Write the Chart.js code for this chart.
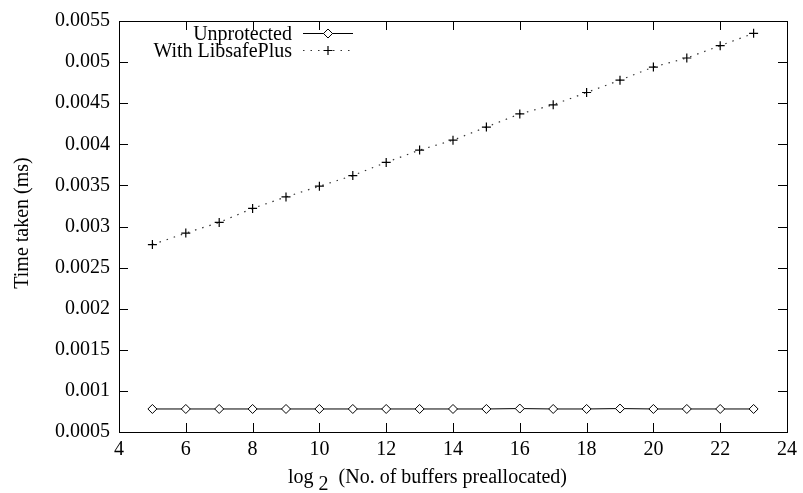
<!DOCTYPE html>
<html>
<head>
<meta charset="utf-8">
<script src="https://cdn.jsdelivr.net/npm/chart.js@4/dist/chart.umd.min.js"></script>
<style>
  html, body { margin: 0; padding: 0; background: #fff; }
  #wrap { width: 803px; height: 493px; }
</style>
</head>
<body>
<div id="wrap"><canvas id="chart" width="803" height="493"></canvas></div>
<script>
// ── Data ─────────────────────────────────────────────────────────────
var bufferExponents = [5, 6, 7, 8, 9, 10, 11, 12, 13, 14, 15, 16, 17, 18, 19, 20, 21, 22, 23];
var unprotectedTimes = [0.00078, 0.00078, 0.00078, 0.00078, 0.00078, 0.00078, 0.00078, 0.00078, 0.00078, 0.00078,
    0.00078, 0.000785, 0.00078, 0.00078, 0.000785, 0.00078, 0.00078, 0.00078, 0.00078];
var libsafeTimes = [0.00278, 0.00292, 0.00305, 0.00322, 0.00336, 0.00349, 0.00362, 0.00378, 0.00393, 0.00405,
    0.00421, 0.00437, 0.00448, 0.00463, 0.00478, 0.00494, 0.00505, 0.00520, 0.00535];
var yTickLabels = ["0.0005", "0.001", "0.0015", "0.002", "0.0025", "0.003", "0.0035", "0.004", "0.0045", "0.005", "0.0055"];
var seriesNames = ["Unprotected", "With LibsafePlus"];

var FONT = "'Liberation Serif', 'Times New Roman', serif";

function toPoints(ys) {
    return bufferExponents.map(function (x, i) { return { x: x, y: ys[i] }; });
}

// ── Frame, inward ticks, legend and axis titles (gnuplot look) ───────
var gnuplotDecor = {
    id: "gnuplotDecor",
    afterDraw: function (chart) {
        var ctx = chart.ctx;
        var a = chart.chartArea;
        var xs = chart.scales.x, ys = chart.scales.y;
        ctx.save();
        ctx.strokeStyle = "#000";
        ctx.lineWidth = 1;
        ctx.strokeRect(a.left + 0.5, a.top + 0.5, a.right - a.left, a.bottom - a.top);

        ctx.beginPath();
        ys.ticks.forEach(function (t) {
            var py = Math.round(ys.getPixelForValue(t.value)) + 0.5;
            ctx.moveTo(a.left, py); ctx.lineTo(a.left + 9, py);
            ctx.moveTo(a.right, py); ctx.lineTo(a.right - 9, py);
        });
        xs.ticks.forEach(function (t) {
            var px = Math.round(xs.getPixelForValue(t.value)) + 0.5;
            ctx.moveTo(px, a.bottom); ctx.lineTo(px, a.bottom - 9);
            ctx.moveTo(px, a.top); ctx.lineTo(px, a.top + 9);
        });
        ctx.stroke();

        // legend
        ctx.font = "20px " + FONT;
        ctx.fillStyle = "#000";
        ctx.textAlign = "right";
        ctx.textBaseline = "alphabetic";
        ctx.fillText(seriesNames[0], 292, 40);
        ctx.fillText(seriesNames[1], 292, 57);

        ctx.beginPath();
        ctx.lineWidth = 1;
        ctx.moveTo(303, 33.5); ctx.lineTo(353, 33.5);
        ctx.stroke();
        ctx.beginPath();
        ctx.fillStyle = "#fff";
        ctx.moveTo(328, 29); ctx.lineTo(332.5, 33.5); ctx.lineTo(328, 38); ctx.lineTo(323.5, 33.5); ctx.closePath();
        ctx.fill(); ctx.stroke();

        ctx.beginPath();
        ctx.setLineDash([1.5, 6]);
        ctx.strokeStyle = "#333";
        ctx.moveTo(303, 50.5); ctx.lineTo(353, 50.5);
        ctx.stroke();
        ctx.setLineDash([]);
        ctx.beginPath();
        ctx.strokeStyle = "#000";
        ctx.lineWidth = 1.2;
        ctx.moveTo(323.5, 50.5); ctx.lineTo(332.5, 50.5);
        ctx.moveTo(328, 46); ctx.lineTo(328, 55);
        ctx.stroke();

        // x title with subscript
        ctx.fillStyle = "#000";
        ctx.textAlign = "left";
        var tx = 288, base = 483;
        ctx.fillText("log ", tx, base);
        tx += ctx.measureText("log ").width;
        ctx.fillText("2", tx, base + 7);
        tx += ctx.measureText("2").width;
        ctx.fillText("  (No. of buffers preallocated)", tx, base);

        // y title
        ctx.translate(23, 223);
        ctx.rotate(-Math.PI / 2);
        ctx.textAlign = "center";
        ctx.textBaseline = "middle";
        ctx.fillText("Time taken (ms)", 0, 0);
        ctx.restore();
    }
};

var chart = new Chart(document.getElementById("chart"), {
    type: "line",
    data: {
        datasets: [{
            label: seriesNames[0],
            data: toPoints(unprotectedTimes),
            borderColor: "#000",
            borderWidth: 1,
            pointStyle: "rectRot",
            pointRadius: 4.5,
            pointBackgroundColor: "#fff",
            pointBorderColor: "#000",
            pointBorderWidth: 1,
            tension: 0
        }, {
            label: seriesNames[1],
            data: toPoints(libsafeTimes),
            borderColor: "#333",
            borderWidth: 1.2,
            borderDash: [1.5, 6],
            pointStyle: "cross",
            pointRadius: 4.5,
            pointBorderColor: "#000",
            pointBorderWidth: 1.2,
            tension: 0
        }]
    },
    options: {
        responsive: false,
        animation: false,
        layout: { padding: { left: 0, top: 14, right: 14, bottom: 0 } },
        plugins: {
            legend: { display: false },
            tooltip: { enabled: false }
        },
        scales: {
            x: {
                type: "linear",
                min: 4,
                max: 24,
                grid: { display: false, drawTicks: false },
                border: { display: false },
                ticks: { stepSize: 2, color: "#000", padding: 6, font: { family: FONT, size: 20 } },
                afterFit: function (scale) { scale.height = 61; }
            },
            y: {
                min: 0.0005,
                max: 0.0055,
                grid: { display: false, drawTicks: false },
                border: { display: false },
                ticks: {
                    stepSize: 0.0005,
                    color: "#000",
                    padding: 9,
                    font: { family: FONT, size: 20 },
                    callback: function (value, index) { return yTickLabels[index]; }
                },
                afterFit: function (scale) { scale.width = 119; }
            }
        }
    },
    plugins: [gnuplotDecor]
});
</script>
</body>
</html>
